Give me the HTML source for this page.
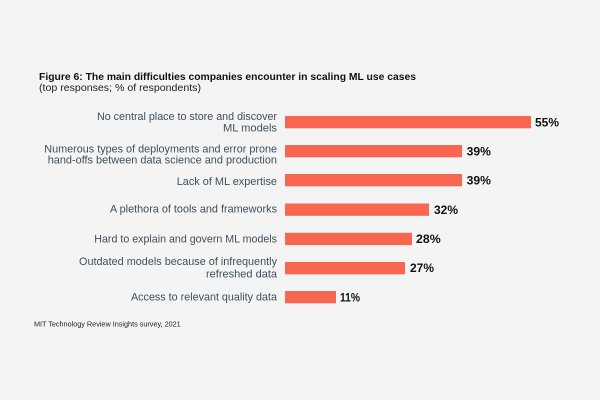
<!DOCTYPE html>
<html><head><meta charset="utf-8"><style>
html,body{margin:0;padding:0;background:#f4f4f4;}
svg{display:block;}
</style></head><body>
<svg width="600" height="400" viewBox="0 0 600 400" xmlns="http://www.w3.org/2000/svg">
<rect width="600" height="400" fill="#f4f4f4"/>
<g font-family="Liberation Sans, sans-serif">
<text x="39" y="80" font-size="10" font-weight="bold" fill="#111" textLength="377" lengthAdjust="spacingAndGlyphs">Figure 6: The main difficulties companies encounter in scaling ML use cases</text>
<text x="39" y="91" font-size="10" fill="#222" textLength="162" lengthAdjust="spacingAndGlyphs">(top responses; % of respondents)</text>

<g font-size="11" fill="#3f4f5b" text-anchor="end">
<text x="277" y="120" textLength="180" lengthAdjust="spacingAndGlyphs">No central place to store and discover</text>
<text x="277" y="131.7" textLength="54" lengthAdjust="spacingAndGlyphs">ML models</text>
<text x="277" y="152.7" textLength="232.7" lengthAdjust="spacingAndGlyphs">Numerous types of deployments and error prone</text>
<text x="277" y="163.3" textLength="229.3" lengthAdjust="spacingAndGlyphs">hand-offs between data science and production</text>
<text x="277" y="185" textLength="100.3" lengthAdjust="spacingAndGlyphs">Lack of ML expertise</text>
<text x="277" y="212.7" textLength="167" lengthAdjust="spacingAndGlyphs">A plethora of tools and frameworks</text>
<text x="277" y="242.7" textLength="182.7" lengthAdjust="spacingAndGlyphs">Hard to explain and govern ML models</text>
<text x="277" y="265" textLength="198" lengthAdjust="spacingAndGlyphs">Outdated models because of infrequently</text>
<text x="277" y="277.3" textLength="71" lengthAdjust="spacingAndGlyphs">refreshed data</text>
<text x="277" y="300.7" textLength="146" lengthAdjust="spacingAndGlyphs">Access to relevant quality data</text>
</g>

<g fill="#f8664f">
<rect x="285" y="116" width="246" height="12.3"/>
<rect x="285" y="145" width="177" height="12.3"/>
<rect x="285" y="174" width="177" height="12.3"/>
<rect x="285" y="203.5" width="144" height="12.3"/>
<rect x="285" y="232.8" width="127" height="12.3"/>
<rect x="285" y="262" width="120" height="12.3"/>
<rect x="285" y="291" width="51" height="12.3"/>
</g>

<g font-size="11.5" font-weight="bold" fill="#111">
<text x="535" y="126.3" textLength="24" lengthAdjust="spacingAndGlyphs">55%</text>
<text x="466.7" y="155.3" textLength="24.3" lengthAdjust="spacingAndGlyphs">39%</text>
<text x="466.7" y="184.5" textLength="24.3" lengthAdjust="spacingAndGlyphs">39%</text>
<text x="434" y="213.8" textLength="24" lengthAdjust="spacingAndGlyphs">32%</text>
<text x="416" y="243" textLength="24.7" lengthAdjust="spacingAndGlyphs">28%</text>
<text x="410" y="272.2" textLength="24" lengthAdjust="spacingAndGlyphs">27%</text>
<text x="340" y="301.3" textLength="20" lengthAdjust="spacingAndGlyphs">11%</text>
</g>

<text x="34" y="326.7" font-size="7.5" fill="#222" textLength="146.7" lengthAdjust="spacingAndGlyphs">MIT Technology Review Insights survey, 2021</text>
</g>
</svg>
</body></html>
